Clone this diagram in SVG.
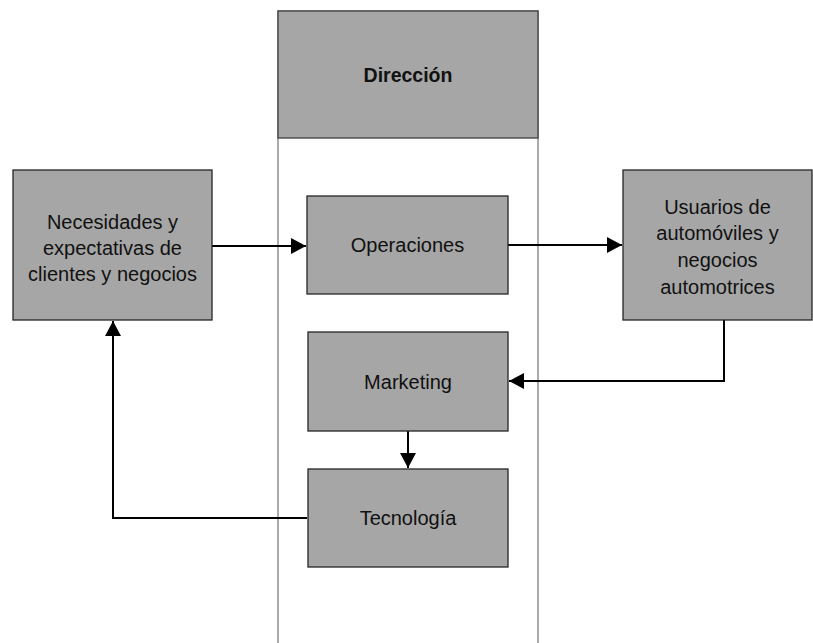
<svg xmlns="http://www.w3.org/2000/svg" width="813" height="643" viewBox="0 0 813 643">
<style>
.box{fill:#a6a6a6;stroke:#262626;stroke-width:1.3}
.lane{fill:none;stroke:#7f7f7f;stroke-width:1.3}
.t{font-family:"Liberation Sans",Arial,sans-serif;font-size:20px;fill:#111;text-anchor:middle}
.b{font-weight:bold;font-size:19.5px}
.c{fill:none;stroke:#000;stroke-width:2}
</style>
<defs>
<marker id="ah" markerWidth="16" markerHeight="16" refX="15" refY="8" orient="auto" markerUnits="userSpaceOnUse">
<path d="M0,0 L15,8 L0,16 Z" fill="#000"/>
</marker>
</defs>
<g id="lane">
<rect class="lane" x="278" y="11" width="260" height="640"/>
</g>
<g id="direccion">
<rect class="box" x="278" y="11" width="260" height="127" style="stroke:#404040"/>
<text class="t b" x="408" y="82">Dirección</text>
</g>
<g id="connectors">
<path class="c" d="M212,246 H306" marker-end="url(#ah)"/>
<path class="c" d="M508,245 H622" marker-end="url(#ah)"/>
<path class="c" d="M724,320 V381 H509" marker-end="url(#ah)"/>
<path class="c" d="M408,431 V468" marker-end="url(#ah)"/>
<path class="c" d="M307,518 H113 V321" marker-end="url(#ah)"/>
</g>
<g id="necesidades">
<rect class="box" x="13" y="170" width="199" height="150"/>
<text class="t" x="112.5" y="229">Necesidades y</text>
<text class="t" x="112.5" y="255">expectativas de</text>
<text class="t" x="112.5" y="281">clientes y negocios</text>
</g>
<g id="operaciones">
<rect class="box" x="307" y="196" width="201" height="98"/>
<text class="t" x="407.5" y="252">Operaciones</text>
</g>
<g id="usuarios">
<rect class="box" x="623" y="170" width="189" height="150"/>
<text class="t" x="717.5" y="214">Usuarios de</text>
<text class="t" x="717.5" y="240">automóviles y</text>
<text class="t" x="717.5" y="267">negocios</text>
<text class="t" x="717.5" y="294">automotrices</text>
</g>
<g id="marketing">
<rect class="box" x="308" y="332" width="200" height="99"/>
<text class="t" x="408" y="389">Marketing</text>
</g>
<g id="tecnologia">
<rect class="box" x="308" y="469" width="200" height="98"/>
<text class="t" x="408" y="525">Tecnología</text>
</g>
</svg>
